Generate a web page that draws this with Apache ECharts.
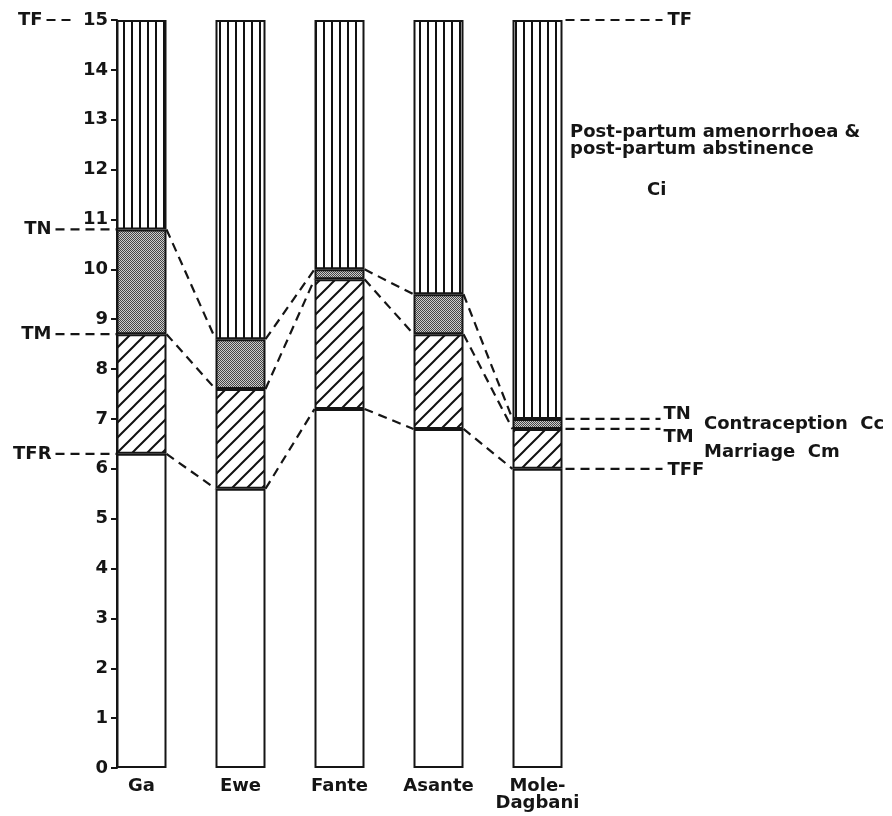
<!DOCTYPE html>
<html><head><meta charset="utf-8">
<script src="https://cdn.jsdelivr.net/npm/echarts@6/dist/echarts.min.js"></script>
<style>html,body{margin:0;padding:0;background:#fff}#c{width:892px;height:816px}</style>
</head><body><div id="c"></div>
<script>
// ---- data ----
const categories = ['Ga', 'Ewe', 'Fante', 'Asante', 'Mole-\nDagbani'];
const tfr = [6.3, 5.6, 7.2, 6.8, 6.0];   // TFR / TFF (top of white segment)
const tm  = [8.7, 7.6, 9.8, 8.7, 6.8];   // TM (top of marriage segment)
const tn  = [10.8, 8.6, 10.0, 9.5, 7.0]; // TN (top of contraception segment)
const tf  = [15, 15, 15, 15, 15];        // TF
const leftMarkLabels = ['TF', 'TN', 'TM', 'TFR'];
const rightMarkLabels = ['TF', 'TN', 'TM', 'TFF'];

// ---- styling ----
const FONT = 'DejaVu Sans';
const FONT_CSS = 'bold 18px "DejaVu Sans"';
const INK = '#151515';
const BAR_W = 50;

function makePattern(kind) {
  const c = document.createElement('canvas');
  const ctx = c.getContext('2d');
  if (kind === 'vert') {
    c.width = 8; c.height = 8;
    ctx.fillStyle = '#fff'; ctx.fillRect(0, 0, 8, 8);
    ctx.fillStyle = '#111'; ctx.fillRect(3, 0, 2, 8);
  } else if (kind === 'diag') {
    const s = 15;
    c.width = s; c.height = s;
    ctx.fillStyle = '#fff'; ctx.fillRect(0, 0, s, s);
    ctx.strokeStyle = '#111'; ctx.lineWidth = 2;
    ctx.beginPath();
    ctx.moveTo(-2, s + 2); ctx.lineTo(s + 2, -2);
    ctx.moveTo(-2, 2); ctx.lineTo(2, -2);
    ctx.moveTo(s - 2, s + 2); ctx.lineTo(s + 2, s - 2);
    ctx.stroke();
  } else {
    c.width = 2; c.height = 2;
    ctx.fillStyle = '#cccccc'; ctx.fillRect(0, 0, 2, 2);
    ctx.fillStyle = '#444444'; ctx.fillRect(0, 0, 1, 1); ctx.fillRect(1, 1, 1, 1);
  }
  return { image: c, repeat: 'repeat' };
}

const segWhite = tfr.slice();
const segMarriage = tm.map((v, i) => +(v - tfr[i]).toFixed(2));
const segContra = tn.map((v, i) => +(v - tm[i]).toFixed(2));
const segPost = tf.map((v, i) => +(v - tn[i]).toFixed(2));

function barSeries(name, data, color) {
  return {
    name, type: 'bar', stack: 'all', data, barWidth: BAR_W, silent: true,
    itemStyle: { color, borderColor: INK, borderWidth: 2 },
    emphasis: { disabled: true }, z: 2
  };
}

// connectors between adjacent bars for each boundary
const connectorData = [];
[tfr, tm, tn].forEach(arr => {
  for (let i = 0; i < arr.length - 1; i++) connectorData.push([i, arr[i], arr[i + 1]]);
});

const dashStyle = { stroke: INK, lineWidth: 2.2, lineDash: [9, 6] };

const leftVals = [tf[0], tn[0], tm[0], tfr[0]];
const rightVals = [tf[4], tn[4], tm[4], tfr[4]];
const rightTextDy = [0, -5, 8, 2];

const chart = echarts.init(document.getElementById('c'), null, { renderer: 'canvas' });
chart.setOption({
  animation: false,
  backgroundColor: '#fff',
  grid: { left: 92, right: 305, top: 20, bottom: 48 },
  xAxis: {
    type: 'category', data: categories,
    axisLine: { show: false }, axisTick: { show: false },
    axisLabel: { color: INK, fontFamily: FONT, fontWeight: 'bold', fontSize: 18, margin: 10, lineHeight: 17, interval: 0 }
  },
  yAxis: {
    type: 'value', min: 0, max: 15, interval: 1, offset: -25,
    splitLine: { show: false },
    axisLine: { show: true, lineStyle: { color: INK, width: 2 } },
    axisTick: { show: true, length: 6, lineStyle: { color: INK, width: 2 } },
    axisLabel: { color: INK, fontFamily: FONT, fontWeight: 'bold', fontSize: 18, margin: 9 }
  },
  series: [
    barSeries('Births', segWhite, '#fff'),
    barSeries('Marriage Cm', segMarriage, makePattern('diag')),
    barSeries('Contraception Cc', segContra, makePattern('cross')),
    barSeries('Post-partum Ci', segPost, makePattern('vert')),
    {
      type: 'custom', silent: true, z: 5, clip: false,
      data: connectorData,
      renderItem: function (params, api) {
        const d = connectorData[params.dataIndex];
        const a = api.coord([d[0], d[1]]);
        const b = api.coord([d[0] + 1, d[2]]);
        return { type: 'line', shape: { x1: a[0] + BAR_W / 2, y1: a[1], x2: b[0] - BAR_W / 2, y2: b[1] }, style: dashStyle };
      }
    },
    {
      type: 'custom', silent: true, z: 5, clip: false,
      data: leftVals.map(v => [0, v]),
      renderItem: function (params, api) {
        const i = params.dataIndex;
        const p = api.coord([0, leftVals[i]]);
        const ax = p[0] - BAR_W / 2;
        const isTop = i === 0;
        const textRight = isTop ? ax - 74 : ax - 65;
        const lineEnd = isTop ? ax - 40 : ax;
        return {
          type: 'group', children: [
            { type: 'line', shape: { x1: textRight + 4, y1: p[1], x2: lineEnd, y2: p[1] }, style: dashStyle },
            { type: 'text', x: textRight, y: p[1], style: { text: leftMarkLabels[i], fill: INK, font: FONT_CSS, align: 'right', verticalAlign: 'middle' } }
          ]
        };
      }
    },
    {
      type: 'custom', silent: true, z: 5, clip: false,
      data: rightVals.map(v => [4, v]),
      renderItem: function (params, api) {
        const i = params.dataIndex;
        const p = api.coord([4, rightVals[i]]);
        const rx = p[0] + BAR_W / 2;
        const lineEnd = (i === 1 || i === 2) ? rx + 98 : rx + 100;
        const tx = (i === 1 || i === 2) ? rx + 101 : rx + 105;
        return {
          type: 'group', children: [
            { type: 'line', shape: { x1: rx + 3, y1: p[1], x2: lineEnd, y2: p[1] }, style: dashStyle },
            { type: 'text', x: tx, y: p[1] + rightTextDy[i], style: { text: rightMarkLabels[i], fill: INK, font: FONT_CSS, align: 'left', verticalAlign: 'middle' } }
          ]
        };
      }
    }
  ],
  graphic: [
    { type: 'text', left: 570, top: 123, silent: true, style: { text: 'Post-partum amenorrhoea &\npost-partum abstinence', fill: INK, font: FONT_CSS, lineHeight: 17 } },
    { type: 'text', left: 647, top: 181, silent: true, style: { text: 'Ci', fill: INK, font: FONT_CSS } },
    { type: 'text', left: 704, top: 415, silent: true, style: { text: 'Contraception  Cc', fill: INK, font: FONT_CSS } },
    { type: 'text', left: 704, top: 443, silent: true, style: { text: 'Marriage  Cm', fill: INK, font: FONT_CSS } }
  ]
});
</script></body></html>
